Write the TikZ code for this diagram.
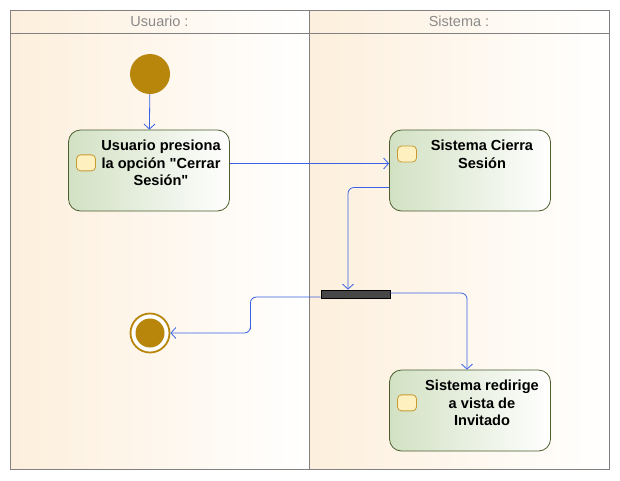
\documentclass[tikz,border=0pt]{standalone}
\usepackage{fontspec}
\setmainfont{Liberation Sans}
\usetikzlibrary{arrows.meta,positioning,calc}

\definecolor{laneback}{HTML}{FDEFDC}
\definecolor{headgray}{HTML}{8A8A8A}
\definecolor{frameline}{HTML}{808080}
\definecolor{actgreen}{HTML}{D2E1C3}
\definecolor{actline}{HTML}{4A5E2E}
\definecolor{iconfill}{HTML}{FFF0C0}
\definecolor{iconline}{HTML}{C89A30}
\definecolor{flowblue}{HTML}{3A62E6}
\definecolor{gold}{HTML}{B8860B}
\definecolor{barfill}{HTML}{474747}

\begin{document}
\begin{tikzpicture}[x=1pt,y=-1pt,
    action/.style={draw=actline, line width=0.8pt, rounded corners=12pt,
        left color=actgreen, middle color=actgreen!75!white, right color=white,
        minimum width=161pt, minimum height=81pt, inner sep=0pt},
    acttext/.style={font=\fontsize{14.6}{17.7}\selectfont\bfseries, align=center,
        inner sep=0pt, anchor=north},
    icon/.style={draw=iconline, fill=iconfill, line width=0.8pt, rounded corners=4pt,
        minimum width=19pt, minimum height=16pt, inner sep=0pt, anchor=west},
    flow/.style={draw=flowblue, line width=0.8pt, rounded corners=6pt,
        -{Straight Barb[length=5pt,width=11pt]}},
    header/.style={text=headgray, font=\fontsize{14.5}{17}\selectfont, inner sep=0pt}
]
    \useasboundingbox (0,0) rectangle (620,480);

    % draw the background
    \fill[white] (0,0) rectangle (620,480);
    \shade[left color=laneback, right color=white] (10,10) rectangle (309,469);
    \shade[left color=laneback, right color=white] (309,10) rectangle (609,469);

    % lane headers
    \node[header] (usuario) at (159.5,21.5) {Usuario :};
    \node[header] (sistema) at (459,21.5) {Sistema :};

    % the frame
    \draw[frameline, line width=0.8pt] (10,10) rectangle (609,469);
    \draw[frameline, line width=0.8pt] (10,33) -- (609,33);
    \draw[frameline, line width=0.8pt] (309,10) -- (309,469);

    % start and end
    \node[circle, fill=gold, minimum size=40pt, inner sep=0pt] (start) at (150,74) {};
    \node[circle, draw=gold, line width=1.8pt, fill=white, minimum size=39pt, inner sep=0pt] (fin) at (150,333) {};
    \node[circle, fill=gold, minimum size=29pt, inner sep=0pt] (fin dot) at (fin) {};

    % actions
    \node[action] (a1) at (149,170.5) {};
    \node[acttext] (a1txt) at ($(a1.north)+(12,10)$) {Usuario presiona\\la opción \textquotedbl Cerrar\\Sesión\textquotedbl};
    \node[icon] (a1icon) at ($(a1.west |- a1txt.center)+(8,0)$) {};

    \node[action] (a2) at (470,170.5) {};
    \node[acttext] (a2txt) at ($(a2.north)+(12,10)$) {Sistema Cierra\\Sesión};
    \node[icon] (a2icon) at ($(a2.west |- a2txt.center)+(8,0)$) {};

    \node[action] (a3) at (470,410.5) {};
    \node[acttext] (a3txt) at ($(a3.north)+(12,10)$) {Sistema redirige\\a vista de\\Invitado};
    \node[icon] (a3icon) at ($(a3.west |- a3txt.center)+(8,0)$) {};

    % fork bar
    \node[draw=black, fill=barfill, line width=0.8pt, minimum width=69pt, minimum height=8pt, inner sep=0pt] (bar) at (355.5,294) {};

    % flows
    \draw[flow] (start) -- (a1);
    \draw[flow] ($(a1.east)+(0,-7)$) -- ($(a2.west)+(0,-7)$);
    \draw[flow] ($(a2.west)+(0,17)$) -| ($(bar.north)+(-7.5,0)$);
    \draw[flow] ($(bar.west)+(0,3)$) -| ($(fin.east)+(80,0)$) |- (fin.east);
    \draw[flow] ($(bar.east)+(0,-1)$) -| ($(a3.north)+(-3,0)$);
\end{tikzpicture}
\end{document}
